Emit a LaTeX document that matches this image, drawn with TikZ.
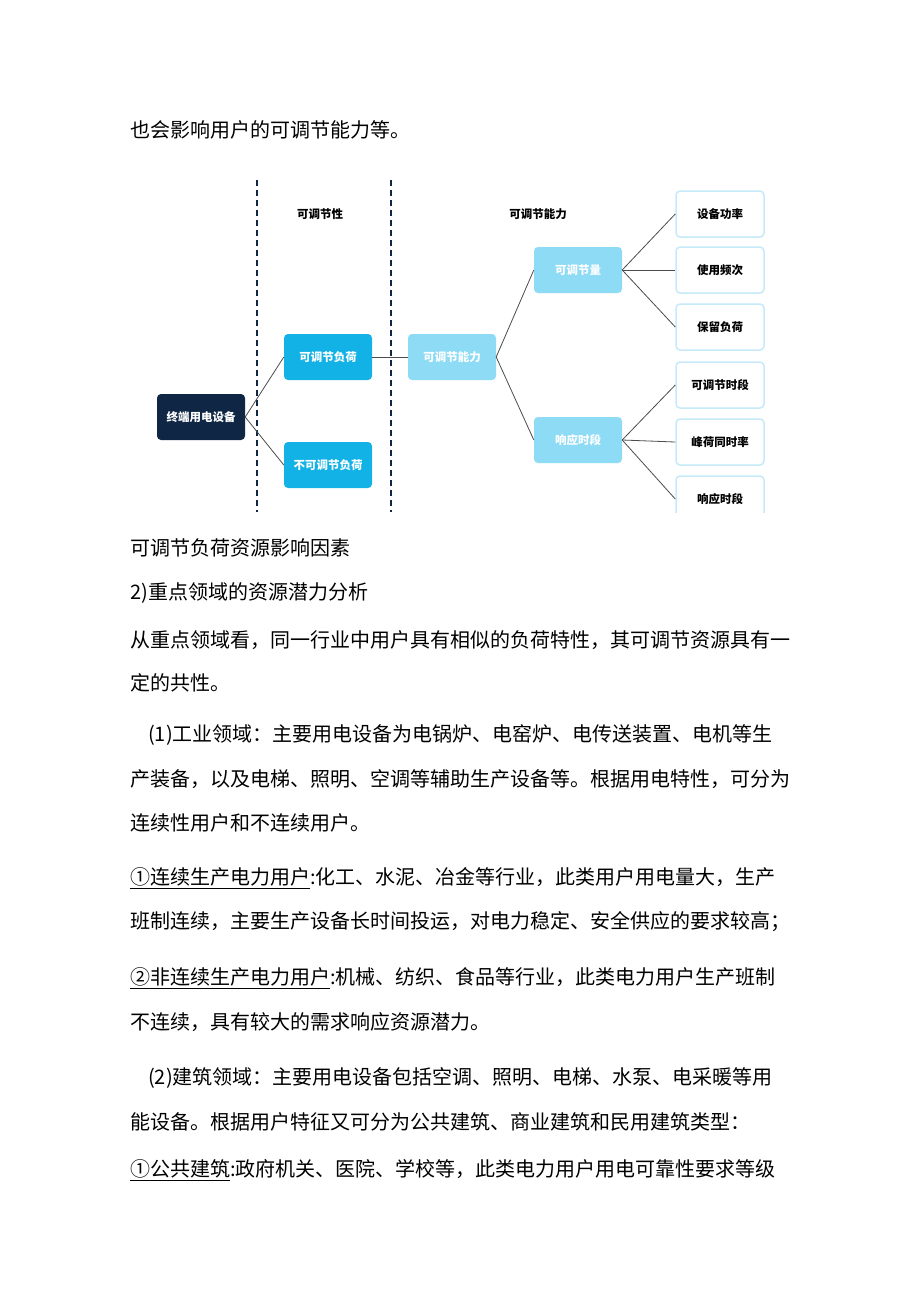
\documentclass[tikz,border=0pt]{standalone}
\usepackage{fontspec}
\setmainfont{Noto Sans CJK SC}
\usetikzlibrary{positioning}
\definecolor{navy}{HTML}{0F2744}
\definecolor{cyanbox}{HTML}{12B2E6}
\definecolor{lightbox}{HTML}{8EDBF6}
\definecolor{edgeblue}{HTML}{C6EAF8}
\tikzset{
  box/.style={rounded corners=4pt,minimum width=88pt,minimum height=46pt,font=\fontsize{11.5}{11.5}\selectfont\bfseries,inner sep=0pt},
  darkbox/.style={box,fill=navy,text=white},
  midbox/.style={box,fill=cyanbox,text=white},
  palebox/.style={box,fill=lightbox,text=white},
  leafbox/.style={box,draw=edgeblue,line width=1.5pt,fill=white,minimum width=88pt,minimum height=46pt},
  body/.style={anchor=west,font=\fontsize{20}{20}\selectfont,inner sep=0pt},
  conn/.style={draw=black!70,line width=0.8pt},
  sepline/.style={navy,dash pattern=on 6pt off 4pt,line width=1.5pt}
}
\begin{document}
\begin{tikzpicture}[x=1pt,y=-1pt]
\useasboundingbox (0,0) rectangle (920,1301);
\fill[white] (0,0) rectangle (920,1301);
\node[body] (t1) at (130,130) {也会影响用户的可调节能力等。};
% diagram
\draw[sepline] (257,180) -- (257,512);
\draw[sepline] (391,180) -- (391,512);
\node[font=\fontsize{11.5}{11.5}\selectfont\bfseries] (h1) at (320,214) {可调节性};
\node[font=\fontsize{11.5}{11.5}\selectfont\bfseries] (h2) at (538,214) {可调节能力};
\node[darkbox] (root) at (201,417) {终端用电设备};
\node[midbox] (adj) at (328,357) {可调节负荷};
\node[midbox] (nadj) at (328,465) {不可调节负荷};
\node[palebox] (cap) at (452,357) {可调节能力};
\node[palebox] (amt) at (578,270) {可调节量};
\node[palebox] (resp) at (578,440) {响应时段};
\node[leafbox] (l1) at (720,214) {设备功率};
\node[leafbox] (l2) at (720,270) {使用频次};
\node[leafbox] (l3) at (720,327) {保留负荷};
\node[leafbox] (l4) at (720,385) {可调节时段};
\node[leafbox] (l5) at (720,442) {峰荷同时率};
\node[leafbox] (l6) at (720,499) {响应时段};
\draw[conn] (root.east) -- (adj.west);
\draw[conn] (root.east) -- (nadj.west);
\draw[conn] (adj.east) -- (cap.west);
\draw[conn] (cap.east) -- (amt.west);
\draw[conn] (cap.east) -- (resp.west);
\foreach \l in {l1,l2,l3} \draw[conn] (amt.east) -- (\l.west);
\foreach \l in {l4,l5,l6} \draw[conn] (resp.east) -- (\l.west);
\fill[white] (140,513) rectangle (780,530);
% text below
\node[body] (t2) at (130,548) {可调节负荷资源影响因素};
\node[body] (t3) at (130,593) {2)重点领域的资源潜力分析};
\node[body] (t4) at (130,640) {从重点领域看，同一行业中用户具有相似的负荷特性，其可调节资源具有一};
\node[body] (t5) at (130,683) {定的共性。};
\node[body] (t6) at (148,735) {(1)工业领域：主要用电设备为电锅炉、电窑炉、电传送装置、电机等生};
\node[body] (t7) at (130,779) {产装备，以及电梯、照明、空调等辅助生产设备等。根据用电特性，可分为};
\node[body] (t8) at (130,823) {连续性用户和不连续用户。};
\node[body] (t9) at (130,878) {\underline{①连续生产电力用户}:化工、水泥、冶金等行业，此类用户用电量大，生产};
\node[body] (t10) at (130,922) {班制连续，主要生产设备长时间投运，对电力稳定、安全供应的要求较高；};
\node[body] (t11) at (130,978) {\underline{②非连续生产电力用户}:机械、纺织、食品等行业，此类电力用户生产班制};
\node[body] (t12) at (130,1022) {不连续，具有较大的需求响应资源潜力。};
\node[body] (t13) at (148,1078) {(2)建筑领域：主要用电设备包括空调、照明、电梯、水泵、电采暖等用};
\node[body] (t14) at (130,1122) {能设备。根据用户特征又可分为公共建筑、商业建筑和民用建筑类型：};
\node[body] (t15) at (130,1170) {\underline{①公共建筑}:政府机关、医院、学校等，此类电力用户用电可靠性要求等级};
\end{tikzpicture}
\end{document}
